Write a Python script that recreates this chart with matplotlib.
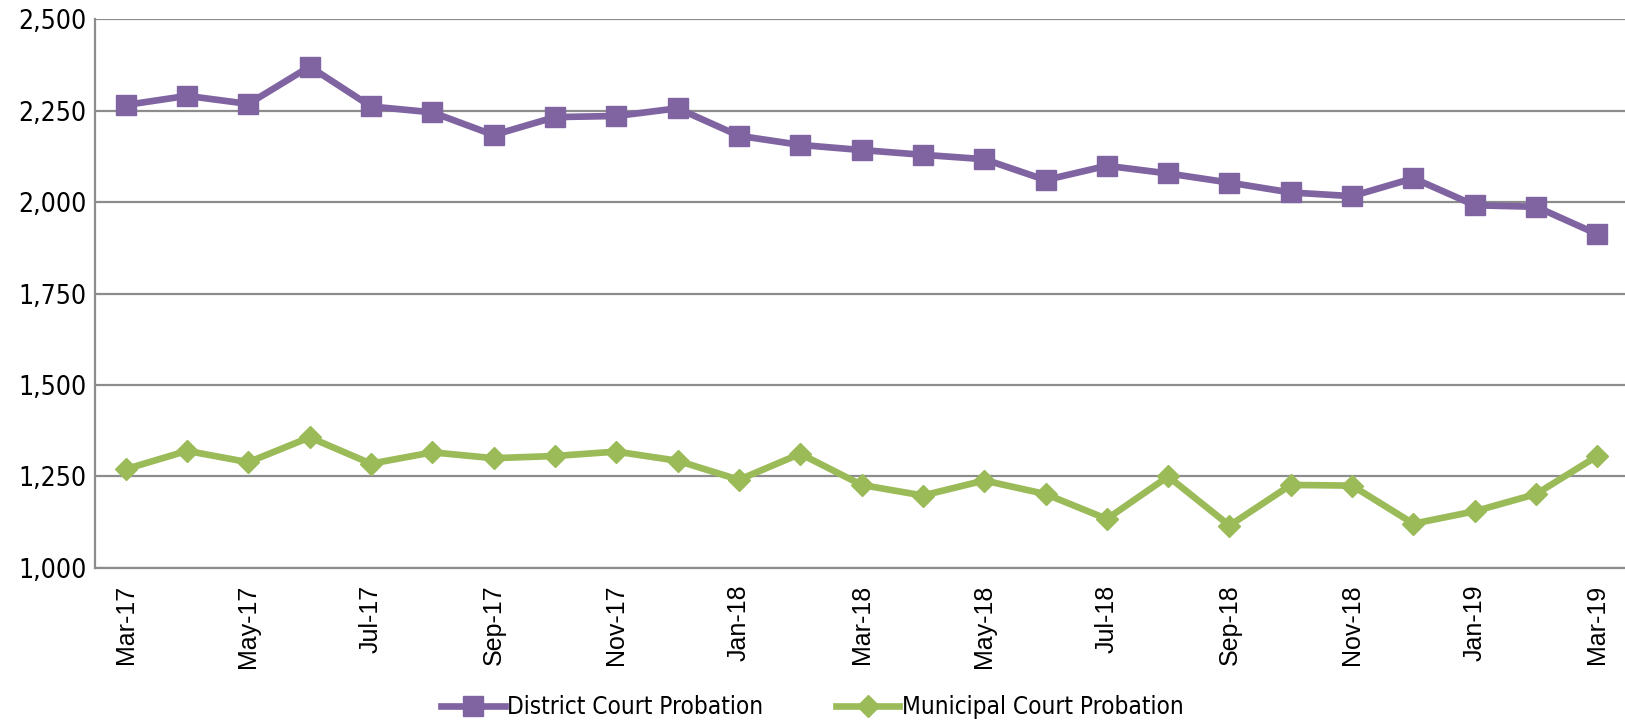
import matplotlib.pyplot as plt
from matplotlib.font_manager import FontProperties

# 월별 라벨 (Mar-17 ~ Mar-19)
months = ['Mar-17', 'Apr-17', 'May-17', 'Jun-17', 'Jul-17', 'Aug-17', 'Sep-17',
          'Oct-17', 'Nov-17', 'Dec-17', 'Jan-18', 'Feb-18', 'Mar-18', 'Apr-18',
          'May-18', 'Jun-18', 'Jul-18', 'Aug-18', 'Sep-18', 'Oct-18', 'Nov-18',
          'Dec-18', 'Jan-19', 'Feb-19', 'Mar-19']
district = [2265, 2290, 2268, 2370, 2261, 2245, 2183, 2232, 2235, 2256, 2181, 2156,
            2142, 2129, 2117, 2060, 2099, 2078, 2053, 2026, 2016, 2065, 1991, 1987, 1912]
municipal = [1270, 1320, 1289, 1357, 1285, 1316, 1300, 1306, 1318, 1293, 1241, 1312,
             1227, 1198, 1239, 1202, 1134, 1250, 1116, 1227, 1225, 1121, 1155, 1202, 1306]
y_ticks = [1000, 1250, 1500, 1750, 2000, 2250, 2500]

# 좁은 글꼴 (Calibri 비슷하게)
narrow_y = FontProperties(family='DejaVu Sans', stretch='condensed', size=19)
narrow_leg = FontProperties(family='DejaVu Sans', stretch='condensed', size=17.5)

fig = plt.figure(figsize=(16.25, 7.23), dpi=100)
ax = fig.add_axes([0.0585, 0.2144, 0.9415, 0.7593])

x = list(range(len(months)))
ax.plot(x, district, color='#8064A2', lw=4.8, marker='s', ms=14,
        label='District Court Probation', zorder=3)
ax.plot(x, municipal, color='#9BBB59', lw=4.8, marker='D', ms=11,
        label='Municipal Court Probation', zorder=3)

ax.set_xlim(-0.5, 24.45)
ax.set_ylim(1000, 2500)
ax.set_yticks(y_ticks)
ax.set_yticklabels([f'{v:,}' for v in y_ticks], fontproperties=narrow_y)
ax.set_xticks(x[::2])
ax.set_xticklabels(months[::2], rotation=90, fontsize=18, family='Liberation Sans')
ax.tick_params(length=0)
ax.tick_params(axis='x', pad=12)
ax.tick_params(axis='y', pad=6)
ax.grid(axis='y', color='#8c8c8c', lw=1.6)
ax.set_axisbelow(True)
for s in ['top', 'right']:
    ax.spines[s].set_visible(False)
ax.spines['left'].set_color('#8c8c8c')
ax.spines['bottom'].set_color('#8c8c8c')
ax.spines['left'].set_linewidth(1.6)
ax.spines['bottom'].set_linewidth(1.6)

fig.legend(loc='lower center', bbox_to_anchor=(0.5, -0.025), ncol=2, frameon=False,
           prop=narrow_leg, handlelength=2.6, handletextpad=0.1,
           columnspacing=3.0)

fig.savefig('out.png', dpi=100)
